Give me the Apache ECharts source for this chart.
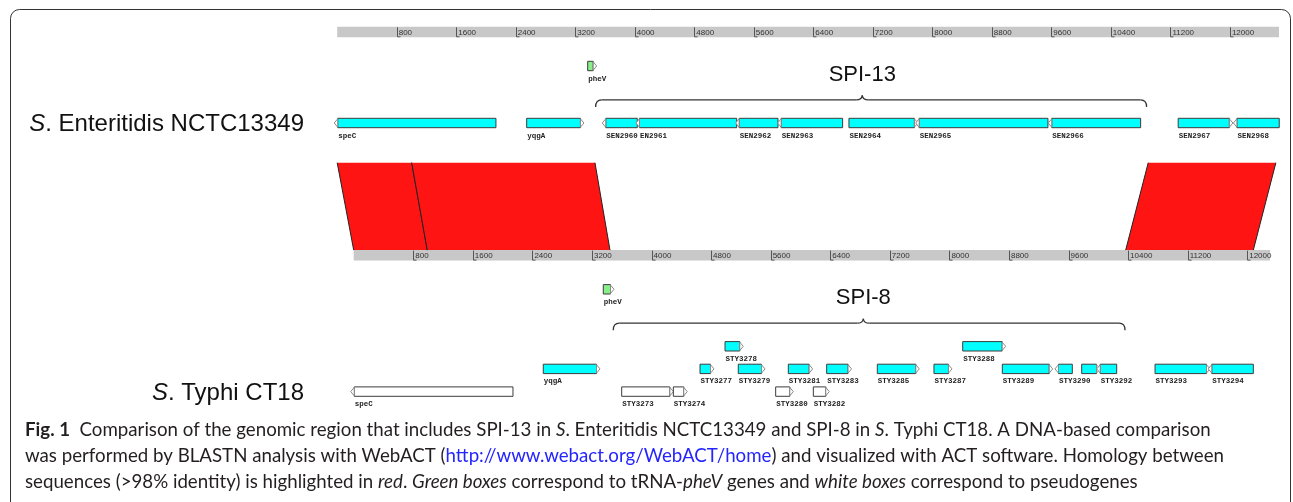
<!DOCTYPE html>
<html>
<head>
<meta charset="utf-8">
<script src="https://cdn.jsdelivr.net/npm/echarts@6/dist/echarts.min.js"></script>
<style>
  html, body { margin: 0; padding: 0; background: #fff; }
  #box { width: 1293px; height: 502px; }
</style>
</head>
<body>
<div id="box"></div>
<script>
// ruler ticks (bp), same for both sequences
const rulerTicks = [800, 1600, 2400, 3200, 4000, 4800, 5600, 6400, 7200, 8000, 8800, 9600, 10400, 11200, 12000]
const enteritidisLength = 12660
const typhiLength = 12306

// [name, start, end, strand, kind, lane]
const enteritidisGenes = [
  ['speC', -40, 2134, -1, 'cds', 1],
  ['yqgA', 2547, 3317, 1, 'cds', 1],
  ['pheV', 3367, 3488, 1, 'trna', 0],
  ['SEN2960', 3563, 4034, -1, 'cds', 1],
  ['EN2961', 4016, 5370, -1, 'cds', 1],
  ['SEN2962', 5356, 5925, -1, 'cds', 1],
  ['SEN2963', 5921, 6794, -1, 'cds', 1],
  ['SEN2964', 6879, 7806, 1, 'cds', 1],
  ['SEN2965', 7776, 9554, -1, 'cds', 1],
  ['SEN2966', 9558, 10800, -1, 'cds', 1],
  ['SEN2967', 11305, 12040, 1, 'cds', 1],
  ['SEN2968', 12047, 12663, -1, 'cds', 1]
]
const typhiGenes = [
  ['speC', -40, 2139, -1, 'pseudo', 3],
  ['yqgA', 2546, 3308, 1, 'cds', 2],
  ['pheV', 3352, 3496, 1, 'trna', 0],
  ['STY3273', 3599, 4293, 1, 'pseudo', 3],
  ['STY3274', 4293, 4480, 1, 'pseudo', 3],
  ['STY3277', 4651, 4839, 1, 'cds', 2],
  ['STY3278', 4987, 5232, 1, 'cds', 1],
  ['STY3279', 5165, 5524, 1, 'cds', 2],
  ['STY3280', 5667, 5904, 1, 'pseudo', 3],
  ['STY3281', 5837, 6164, 1, 'cds', 2],
  ['STY3282', 6173, 6387, 1, 'pseudo', 3],
  ['STY3283', 6352, 6686, 1, 'cds', 2],
  ['STY3285', 7032, 7596, 1, 'cds', 2],
  ['STY3287', 7793, 8035, 1, 'cds', 2],
  ['STY3288', 8179, 8756, 1, 'cds', 1],
  ['STY3289', 8711, 9388, 1, 'cds', 2],
  ['STY3290', 9418, 9651, -1, 'cds', 2],
  ['STY3291', 9777, 10023, 1, 'cds', 2],
  ['STY3292', 9979, 10247, -1, 'cds', 2],
  ['STY3293', 10762, 11500, 1, 'cds', 2],
  ['STY3294', 11477, 12082, -1, 'cds', 2]
]
// labels ACT dropped because they overlap a neighbour
const hiddenLabels = ['STY3291']

// [name, start, end, brace tip]
const enteritidisIslands = [['SPI-13', 3474, 10880, 7058]]
const typhiIslands = [['SPI-8', 3486, 10359, 6844]]

// BLASTN hits: [enteritidis start, end, typhi start, end]
const homology = [
  [0, 1001, 0, 988],
  [1001, 3465, 988, 3442],
  [10902, 12618, 10368, 12082]
]

const RULER_H = 10.5
const GENE_H = 9.4
const ARROW_W = 3.5
const LANE_Y = [24, 81, 103.6, 126.3]
const BRACE_Y = 62.6
const BRACE_LABEL_Y = 37.5
const FILL = { cds: '#00ffff', trna: '#88ee88', pseudo: '#ffffff' }
const MONO = 'bold 7.5px "Liberation Mono"'

const chart = echarts.init(document.getElementById('box'))

function rulerAxis (gridIndex, max) {
  return {
    type: 'value', gridIndex, position: 'top', min: 0, max, interval: 800, z: 10,
    axisLine: { show: false }, axisTick: { show: false }, splitLine: { show: false },
    axisLabel: {
      interval: 0, showMinLabel: false, showMaxLabel: false, align: 'left',
      formatter: v => String(v),
      padding: [0, 0, 0, 2], margin: 1, fontSize: 8, fontFamily: 'Liberation Sans', color: '#333'
    }
  }
}

function renderRulerBar (params, api) {
  const cs = params.coordSys
  const x0 = api.coord([api.value(0), 0])[0]
  const x1 = api.coord([api.value(1), 0])[0]
  return { type: 'rect', shape: { x: x0, y: cs.y - RULER_H, width: x1 - x0, height: RULER_H }, style: { fill: '#c8c8c8' } }
}

function renderRulerTick (params, api) {
  const cs = params.coordSys
  const x = Math.round(api.coord([api.value(0), 0])[0]) + 0.5
  return {
    type: 'polyline',
    shape: { points: [[x, cs.y - RULER_H + 0.5], [x, cs.y - 0.5], [x + 3, cs.y - 0.5]] },
    style: { stroke: '#555', lineWidth: 1, fill: null }
  }
}

function geneRenderer (genes) {
  return function (params, api) {
    const g = genes[params.dataIndex]
    const cs = params.coordSys
    const x0 = api.coord([g[1], 0])[0]
    const x1 = api.coord([g[2], 0])[0]
    const y = cs.y + LANE_Y[g[5]]
    const rev = g[3] < 0
    const bx0 = rev ? x0 + ARROW_W : x0
    const bx1 = rev ? x1 : x1 - ARROW_W
    const tip = rev ? x0 : x1
    const base = rev ? x0 + ARROW_W : x1 - ARROW_W
    const children = [
      { type: 'rect', shape: { x: bx0, y: y, width: bx1 - bx0, height: GENE_H }, style: { fill: FILL[g[4]], stroke: '#3c3c3c', lineWidth: 1 } },
      {
        type: 'polygon',
        shape: { points: [[base, y + 0.5], [tip, y + GENE_H / 2], [base, y + GENE_H - 0.5]] },
        style: { fill: '#fff', stroke: '#8a8a8a', lineWidth: 1 }
      }
    ]
    if (hiddenLabels.indexOf(g[0]) < 0) {
      children.push({ type: 'text', x: bx0 + 0.5, y: y + GENE_H + 4, style: { text: g[0], font: MONO, fill: '#222', verticalAlign: 'top' } })
    }
    return { type: 'group', children }
  }
}

function islandRenderer (islands) {
  return function (params, api) {
    const s = islands[params.dataIndex]
    const cs = params.coordSys
    const x0 = api.coord([s[1], 0])[0]
    const x1 = api.coord([s[2], 0])[0]
    const xc = api.coord([s[3], 0])[0]
    const y = cs.y + BRACE_Y
    const r = 6
    const st = { stroke: '#333', lineWidth: 1.3, fill: null }
    return {
      type: 'group',
      children: [
        { type: 'bezierCurve', shape: { x1: x0, y1: y + 7, x2: x0 + r, y2: y, cpx1: x0, cpy1: y }, style: st },
        { type: 'line', shape: { x1: x0 + r, y1: y, x2: xc - r, y2: y }, style: st },
        { type: 'bezierCurve', shape: { x1: xc - r, y1: y, x2: xc, y2: y - 4.5, cpx1: xc - 0.5, cpy1: y }, style: st },
        { type: 'bezierCurve', shape: { x1: xc, y1: y - 4.5, x2: xc + r, y2: y, cpx1: xc + 0.5, cpy1: y }, style: st },
        { type: 'line', shape: { x1: xc + r, y1: y, x2: x1 - r, y2: y }, style: st },
        { type: 'bezierCurve', shape: { x1: x1 - r, y1: y, x2: x1, y2: y + 7, cpx1: x1, cpy1: y }, style: st },
        {
          type: 'text', x: xc, y: cs.y + BRACE_LABEL_Y,
          style: { text: s[0], font: '22px "Liberation Sans"', fill: '#111', align: 'center', verticalAlign: 'middle' }
        }
      ]
    }
  }
}

function renderHomology (params, api) {
  const h = homology[params.dataIndex]
  const yTop = chart.convertToPixel({ gridIndex: 0 }, [0, 0])[1]
  const yBot = chart.convertToPixel({ gridIndex: 1 }, [0, 1])[1] - RULER_H
  const a0 = chart.convertToPixel({ xAxisIndex: 0 }, h[0])
  const a1 = chart.convertToPixel({ xAxisIndex: 0 }, h[1])
  const b0 = chart.convertToPixel({ xAxisIndex: 1 }, h[2])
  const b1 = chart.convertToPixel({ xAxisIndex: 1 }, h[3])
  const edge = { stroke: '#222', lineWidth: 1 }
  return {
    type: 'group',
    children: [
      { type: 'polygon', shape: { points: [[a0, yTop], [a1, yTop], [b1, yBot], [b0, yBot]] }, style: { fill: '#ff1414' } },
      { type: 'line', shape: { x1: a0, y1: yTop, x2: b0, y2: yBot }, style: edge },
      { type: 'line', shape: { x1: a1, y1: yTop, x2: b1, y2: yBot }, style: edge }
    ]
  }
}

function trackSeries (idx, len, genes, islands) {
  return [
    { type: 'custom', xAxisIndex: idx, yAxisIndex: idx, z: 1, silent: true, renderItem: renderRulerBar, data: [[0, len]] },
    { type: 'custom', xAxisIndex: idx, yAxisIndex: idx, z: 11, silent: true, renderItem: renderRulerTick, data: rulerTicks.map(t => [t]) },
    { type: 'custom', xAxisIndex: idx, yAxisIndex: idx, z: 3, silent: true, renderItem: islandRenderer(islands),
      data: islands.map(s => [s[1], s[2]]) },
    { type: 'custom', xAxisIndex: idx, yAxisIndex: idx, z: 4, silent: true, renderItem: geneRenderer(genes),
      data: genes.map(g => [g[1], g[2]]) }
  ]
}

const capFont = { fontSize: 18.7, fontFamily: 'Lato' }
const capRich = {
  b: Object.assign({ fontWeight: 'bold' }, capFont),
  i: Object.assign({ fontStyle: 'italic' }, capFont),
  a: Object.assign({ fill: '#2424ff' }, capFont)
}
const spFont = { fontSize: 24, fontFamily: 'Liberation Sans' }
const speciesRich = { i: Object.assign({ fontStyle: 'italic' }, spFont) }

chart.setOption({
  animation: false,
  grid: [
    { left: 337.2, top: 37.3, width: 941.8, height: 125.4, outerBoundsMode: 'none' },
    { left: 353.7, top: 260.6, width: 916.3, height: 150, outerBoundsMode: 'none' }
  ],
  xAxis: [rulerAxis(0, enteritidisLength), rulerAxis(1, typhiLength)],
  yAxis: [
    { type: 'value', gridIndex: 0, min: 0, max: 1, show: false },
    { type: 'value', gridIndex: 1, min: 0, max: 1, show: false }
  ],
  graphic: [
    { type: 'rect', z: -10, shape: { x: 10.5, y: 9.5, width: 1280, height: 560, r: 9 }, style: { fill: 'none', stroke: '#333', lineWidth: 1 } },
    { type: 'text', x: 304, y: 124, style: Object.assign({ text: '{i|S}. Enteritidis NCTC13349', fill: '#111', align: 'right', verticalAlign: 'middle', rich: speciesRich }, spFont) },
    { type: 'text', x: 304, y: 393.5, style: Object.assign({ text: '{i|S}. Typhi CT18', fill: '#111', align: 'right', verticalAlign: 'middle', rich: speciesRich }, spFont) },
    { type: 'text', x: 25, y: 430, style: Object.assign({ text: '{b|Fig. 1}  Comparison of the genomic region that includes SPI-13 in {i|S}. Enteritidis NCTC13349 and SPI-8 in {i|S}. Typhi CT18. A DNA-based comparison', fill: '#231f20', verticalAlign: 'middle', rich: capRich }, capFont) },
    { type: 'text', x: 25, y: 455.5, style: Object.assign({ text: 'was performed by BLASTN analysis with WebACT ({a|http://www.webact.org/WebACT/home}) and visualized with ACT software. Homology between', fill: '#231f20', verticalAlign: 'middle', rich: capRich }, capFont) },
    { type: 'text', x: 25, y: 481.5, style: Object.assign({ text: 'sequences (>98% identity) is highlighted in {i|red}. {i|Green boxes} correspond to tRNA-{i|pheV} genes and {i|white boxes} correspond to pseudogenes', fill: '#231f20', verticalAlign: 'middle', rich: capRich }, capFont) }
  ],
  series: [
    { type: 'custom', coordinateSystem: 'none', z: 2, silent: true, renderItem: renderHomology, data: homology }
  ].concat(trackSeries(0, enteritidisLength, enteritidisGenes, enteritidisIslands))
    .concat(trackSeries(1, typhiLength, typhiGenes, typhiIslands))
})
</script>
</body>
</html>
